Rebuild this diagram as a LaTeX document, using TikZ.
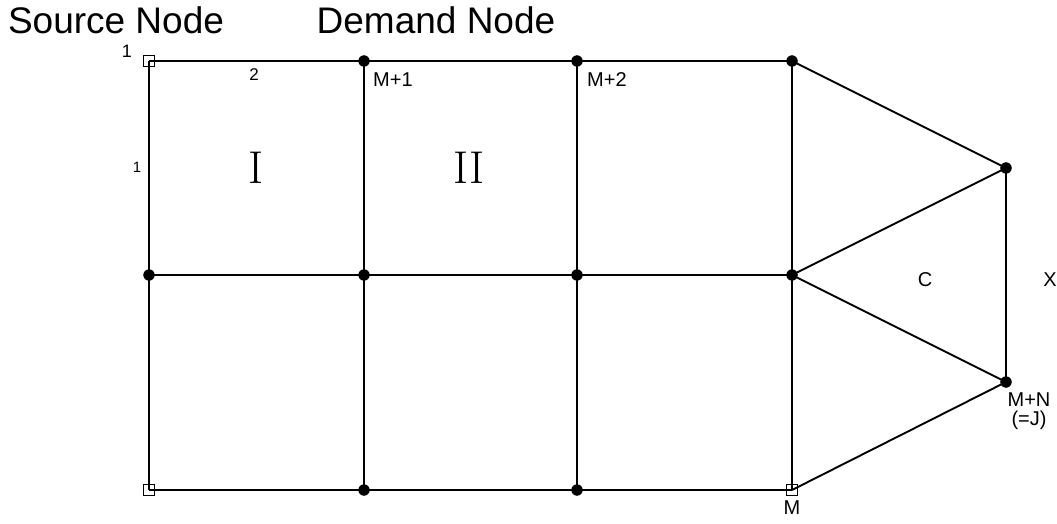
\documentclass[tikz,border=0pt]{standalone}
\usepackage{fontspec}
\setmainfont{Liberation Sans}
\newfontfamily\romfont{Latin Modern Roman}
\begin{document}
\begin{tikzpicture}[x=1pt,y=-1pt,
  edge/.style={line width=1.9pt},
  dot/.style={circle,fill=black,inner sep=0pt,minimum size=11pt},
  sq/.style={rectangle,inner sep=0pt,minimum size=11pt},
  big/.style={font=\fontsize{37}{37}\selectfont,inner sep=0pt},
  lab/.style={font=\fontsize{20}{20}\selectfont,inner sep=0pt},
  roman/.style={font=\romfont\fontsize{46}{46}\selectfont,inner sep=0pt}]
\useasboundingbox (0,0) rectangle (1057,524);
% nodes
\node[sq]  (a1) at (149,61) {};
\node[dot] (b1) at (364,61) {};
\node[dot] (c1) at (577,61) {};
\node[dot] (d1) at (792,61) {};
\node[dot] (a2) at (149,275) {};
\node[dot] (b2) at (364,275) {};
\node[dot] (c2) at (577,275) {};
\node[dot] (d2) at (792,275) {};
\node[sq]  (a3) at (149,490) {};
\node[dot] (b3) at (364,490) {};
\node[dot] (c3) at (577,490) {};
\node[sq]  (d3) at (792,490) {};
\node[dot] (e1) at (1006,168) {};
\node[dot] (e2) at (1006,382) {};
% edges
\draw[edge] (a1.center) -- (b1.center) -- (c1.center) -- (d1.center);
\draw[edge] (a2.center) -- (b2.center) -- (c2.center) -- (d2.center);
\draw[edge] (a3.center) -- (b3.center) -- (c3.center) -- (d3.center);
\draw[edge] (a1.center) -- (a2.center) -- (a3.center);
\draw[edge] (b1.center) -- (b2.center) -- (b3.center);
\draw[edge] (c1.center) -- (c2.center) -- (c3.center);
\draw[edge] (d1.center) -- (d2.center) -- (d3.center);
\draw[edge] (d1.center) -- (e1.center);
\draw[edge] (d2.center) -- (e1.center);
\draw[edge] (d2.center) -- (e2.center);
\draw[edge] (d3.center) -- (e2.center);
\draw[edge] (e1.center) -- (e2.center);
% markers on top of the edges
\foreach \n in {b1,c1,d1,a2,b2,c2,d2,b3,c3,e1,e2}{\fill (\n) circle (5.7pt);}
\foreach \n in {a1,a3,d3}{\draw[line width=1.4pt] (\n.north west) rectangle (\n.south east);}
% labels
\node[big] (tsrc) at (116,20) {Source Node};
\node[big] (tdem) at (436,20) {Demand Node};
\node[font=\fontsize{18}{18}\selectfont,inner sep=0pt] (l1) at (127,51) {1};
\node[font=\fontsize{17}{17}\selectfont,inner sep=0pt] (l2) at (254,75) {2};
\node[font=\fontsize{15}{15}\selectfont,inner sep=0pt] (l3) at (137,167) {1};
\node[lab,anchor=west] (lm1) at (373,80) {M+1};
\node[lab,anchor=west] (lm2) at (587,80) {M+2};
\node[roman] (rI) at (256,168) {I};
\node[roman] (rII) at (469,168) {II};
\node[lab] (lc) at (925,280) {C};
\node[lab] (lx) at (1050,280) {X};
\node[lab] (lmn) at (1029,400) {M+N};
\node[lab] (lj) at (1029,420) {(=J)};
\node[lab] (lm) at (792,508) {M};
\end{tikzpicture}
\end{document}
